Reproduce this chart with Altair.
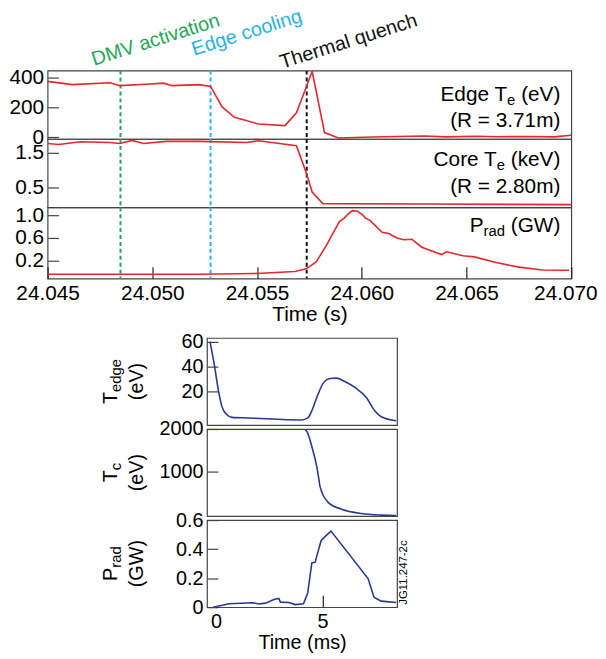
import altair as alt
import pandas as pd

FONT = "Liberation Sans"
RED = "#e8262d"
BLUE = "#2b3792"

# ---------------- top figure (JET shot, time in s) ----------------
edge_time = [24.04500, 24.04617, 24.04798, 24.04845, 24.04971, 24.05054, 24.05094,
             24.05223, 24.05278, 24.05333, 24.05392, 24.05507, 24.05633, 24.05688,
             24.05735, 24.05763, 24.05822, 24.05888, 24.06050, 24.06168, 24.06300,
             24.06400, 24.06550, 24.06650, 24.06800, 24.06920, 24.07000]
edge_te = [377, 355, 368, 348, 357, 365, 348, 355, 343, 205, 135, 90, 79, 165,
           339, 445, 32, -5, 2, 6, 9, 3, 7, 4, 6, 3, 14]

core_time = [24.04500, 24.04553, 24.04656, 24.04798, 24.04845, 24.04903, 24.04958,
             24.05066, 24.05223, 24.05451, 24.05507, 24.05688, 24.05735, 24.05763,
             24.05814, 24.06300, 24.07000]
core_te = [1.77, 1.74, 1.82, 1.80, 1.77, 1.86, 1.77, 1.83, 1.83, 1.80, 1.85, 1.71,
           0.93, 0.38, 0.05, 0.04, 0.02]

prad_time = [24.04500, 24.05223, 24.05499, 24.05680, 24.05735, 24.05782, 24.05829,
             24.05893, 24.05916, 24.05940, 24.05956, 24.05979, 24.06003, 24.06018,
             24.06039, 24.06097, 24.06129, 24.06168, 24.06200, 24.06239, 24.06286,
             24.06381, 24.06405, 24.06483, 24.06538, 24.06641, 24.06751, 24.06862,
             24.06990]
prad_gw = [-0.035, -0.035, -0.02, 0.015, 0.06, 0.18, 0.46, 0.89, 0.95, 1.04, 1.08,
           1.07, 1.01, 0.95, 0.91, 0.70, 0.68, 0.60, 0.57, 0.58, 0.44, 0.31, 0.36,
           0.29, 0.27, 0.17, 0.09, 0.04, 0.035]

event_names = ["DMV activation", "Edge cooling", "Thermal quench"]
event_times = [24.04848, 24.05278, 24.05737]
event_colors = ["#1fa659", "#27b1e6", "#111111"]

top_xticks = [24.045, 24.050, 24.055, 24.060, 24.065, 24.070]

# ---------------- bottom figure (simulation, time in ms) ----------------
sim_edge_time = [-0.28, -0.08, 0.12, 0.28, 0.47, 0.75, 1.55, 4.03, 4.31, 4.50, 4.73,
                 5.04, 5.36, 5.66, 6.05, 6.52, 7.06, 7.45, 7.76, 8.46]
sim_edge_ev = [60, 42, 20.5, 8, 2, -0.8, -1.3, -2.9, -1.3, 4.5, 15, 26.7, 30.4, 30.7,
               28, 23.2, 15.2, 4.5, -0.3, -3.5]

sim_core_time = [-0.39, 4.11, 4.27, 4.50, 4.73, 4.81, 4.89, 5.28, 5.90, 6.83, 7.76, 8.46]
sim_core_ev = [2000, 2000, 1940, 1590, 1120, 890, 640, 270, 116, 14, -23, -33]

sim_prad_time = [-0.13, 0.62, 1.71, 2.02, 2.33, 2.72, 2.95, 3.03, 3.41, 3.73, 4.11,
                 4.31, 4.50, 4.66, 4.73, 4.94, 5.12, 5.40, 7.14, 7.42, 7.76, 8.46]
sim_prad_gw = [0.0, 0.024, 0.031, 0.022, 0.028, 0.053, 0.06, 0.035, 0.033, 0.018,
               0.024, 0.10, 0.305, 0.31, 0.35, 0.46, 0.486, 0.524, 0.197, 0.069,
               0.042, 0.033]

# ---------------- helpers ----------------
AW = {'E': 667, 'd': 556, 'g': 556, 'e': 556, ' ': 278, 'T': 611, '(': 333, 'V': 667,
      ')': 333, 'C': 722, 'o': 556, 'r': 333, 'k': 500, 'P': 667, 'a': 556, 'G': 778,
      'W': 944, 'c': 500}


def tw(s, size):
    return sum(AW.get(ch, 556) for ch in s) * size / 1000.0


ONE = pd.DataFrame({"k": [0]})


def txt(s, x, y, size, align="left", baseline="alphabetic", angle=0, color="black",
        dx=0, dy=0):
    kw = dict(align=align, baseline=baseline, fontSize=size, font=FONT, color=color)
    if angle:
        kw["angle"] = angle
    if dx:
        kw["dx"] = dx
    if dy:
        kw["dy"] = dy
    return alt.Chart(ONE).mark_text(**kw).encode(
        x=alt.value(x), y=alt.value(y), text=alt.value(s))


TOP_W = 529
FS = 21
SUB = 15


def right_label(main, sub, tail, R, y):
    wt = tw(tail, FS)
    ws = tw(sub, SUB)
    return [txt(tail, R, y, FS, align="right"),
            txt(sub, R - wt, y + 4, SUB, align="right"),
            txt(main, R - wt - ws, y, FS, align="right")]


ev_df = pd.DataFrame({"t": event_times, "name": event_names})


def yaxis(values, fs, fmt):
    return alt.Axis(values=values, format=fmt, tickSize=11, offset=-11, domain=False,
                    grid=False, labelFontSize=fs, labelPadding=4, title=None,
                    tickColor="#444", tickWidth=1.2, labelColor="black")


def top_panel(df, domain, yticks, fmt, height, xaxis, extra):
    X = alt.X("t:Q", scale=alt.Scale(domain=[24.045, 24.070], nice=False, zero=False),
              axis=xaxis)
    line = alt.Chart(df).mark_line(color=RED, strokeWidth=1.6, clip=True).encode(
        x=X,
        y=alt.Y("v:Q", scale=alt.Scale(domain=domain, nice=False, zero=False),
                axis=yaxis(yticks, FS, fmt)))
    rules = alt.Chart(ev_df).mark_rule(strokeDash=[4, 3], strokeWidth=2).encode(
        x=X,
        color=alt.Color("name:N", scale=alt.Scale(domain=event_names, range=event_colors),
                        legend=None))
    return alt.layer(rules, line, *extra).properties(width=TOP_W, height=height)


R = 518
annot = [txt(n, x, y, 20, angle=342.5, color=c)
         for n, x, y, c in zip(event_names, [47, 148, 237], [-5, -15, -2], event_colors)]

p1 = top_panel(pd.DataFrame({"t": edge_time, "v": edge_te}), [-11, 449],
               [0, 200, 400], "d", 69, None,
               right_label("Edge T", "e", " (eV)", R, 30.7)
               + [txt("(R = 3.71m)", R, 56.7, FS, align="right")] + annot)
p2 = top_panel(pd.DataFrame({"t": core_time, "v": core_te}), [-0.055, 1.9],
               [0.5, 1.5], ".1f", 69, None,
               right_label("Core T", "e", " (keV)", R, 27.7)
               + [txt("(R = 2.80m)", R, 54.3, FS, align="right")])
xax_top = alt.Axis(values=top_xticks, format=".3f", tickSize=12, offset=-12,
                   domain=False, grid=False, labelFontSize=FS, labelPadding=4,
                   labelFlush=False, tickColor="#222", tickWidth=1.2,
                   labelOffset={"condition": {"test": "datum.value > 24.0695", "value": -6},
                                "value": 0},
                   title="Time (s)", titleFontSize=FS, titleFontWeight="normal",
                   titlePadding=0, labelColor="black")
p3 = top_panel(pd.DataFrame({"t": prad_time, "v": prad_gw}), [-0.11, 1.14],
               [0.2, 0.6, 1.0], ".1f", 72, xax_top,
               right_label("P", "rad", " (GW)", R, 25.3))

top = alt.vconcat(p1, p2, p3, spacing=0, bounds="flush")

# ---------------- bottom figure ----------------
BW = 192
BH = 88
BFS = 20


def rot_title(main, sub, line2, h):
    xa = -90.5
    ya = h / 2
    W = tw(main, BFS) + tw(sub, SUB)
    d0 = -W / 2
    return [txt(main, xa, ya, BFS, angle=270, dx=d0),
            txt(sub, xa, ya, SUB, angle=270, dx=d0 + tw(main, BFS), dy=4),
            txt(line2, xa, ya, BFS, align="center", angle=270, dy=25.4)]


def bot_panel(df, domain, yticks, fmt, xaxis, extra, interp):
    X = alt.X("t:Q", scale=alt.Scale(domain=[-0.42, 8.5], nice=False, zero=False),
              axis=xaxis)
    line = alt.Chart(df).mark_line(color=BLUE, strokeWidth=1.6, clip=True,
                                   interpolate=interp).encode(
        x=X,
        y=alt.Y("v:Q", scale=alt.Scale(domain=domain, nice=False, zero=False),
                axis=yaxis(yticks, BFS, fmt)))
    return alt.layer(line, *extra).properties(width=BW, height=BH)


b1 = bot_panel(pd.DataFrame({"t": sim_edge_time, "v": sim_edge_ev}), [-7, 63],
               [20, 40, 60], "d", None, rot_title("T", "edge", "(eV)", BH), "monotone")
b2 = bot_panel(pd.DataFrame({"t": sim_core_time, "v": sim_core_ev}), [-47, 2000],
               [1000, 2000], "d", None, rot_title("T", "c", "(eV)", BH), "monotone")
xax_bot = alt.Axis(values=[0, 5], format="d", tickSize=12, offset=-12, domain=False,
                   grid=False, labelFontSize=BFS, labelPadding=4, labelFlush=False,
                   tickColor="#222", tickWidth=1.2,
                   tickOpacity={"condition": {"test": "datum.value == 0", "value": 0},
                                "value": 1},
                   title="Time (ms)", titleFontSize=BFS, titleFontWeight="normal",
                   titlePadding=2, labelColor="black")
b3 = bot_panel(pd.DataFrame({"t": sim_prad_time, "v": sim_prad_gw}), [0, 0.6],
               [0, 0.2, 0.4, 0.6], ".1~f", xax_bot,
               rot_title("P", "rad", "(GW)", BH)
               + [txt("JG11.247-2c", 199, 53, 11.5, align="center", baseline="middle",
                      angle=270)], "linear")

bottom = alt.vconcat(b1, b2, b3, spacing=4, bounds="flush")

spacer = alt.Chart(ONE).mark_point(opacity=0, size=1).encode(
    x=alt.value(10), y=alt.value(0)).properties(
    width=161, height=1, view=alt.ViewBackground(stroke="transparent"))

chart = alt.vconcat(
    top, alt.hconcat(spacer, bottom, spacing=0, bounds="flush"), spacing=6
).properties(
    padding={"top": -6, "left": 0, "right": 0, "bottom": 0}
).configure_view(stroke="#444", strokeWidth=1.2).configure_axis(
    labelFont=FONT, titleFont=FONT)

chart.save("out.html", embed_options={"renderer": "svg", "actions": False})
